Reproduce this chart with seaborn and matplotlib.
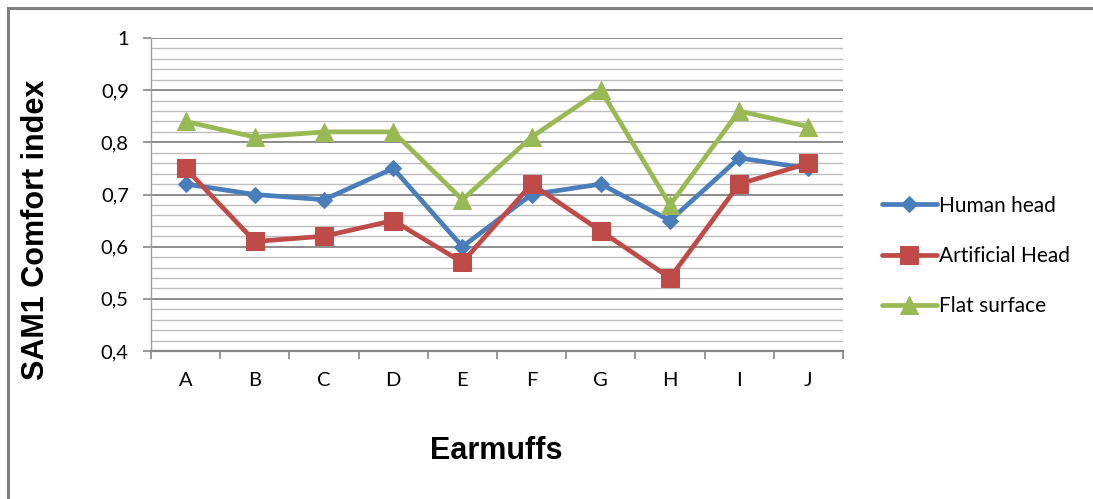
import matplotlib
matplotlib.use("Agg")
import matplotlib.pyplot as plt
from matplotlib.patches import Rectangle
from matplotlib.ticker import FixedLocator, MultipleLocator
import numpy as np
import pandas as pd
import seaborn as sns

# Earmuff models and SAM1 comfort index per measurement set-up
earmuffs = ["A", "B", "C", "D", "E", "F", "G", "H", "I", "J"]
human_head = [0.72, 0.70, 0.69, 0.75, 0.60, 0.70, 0.72, 0.65, 0.77, 0.75]
artificial_head = [0.75, 0.61, 0.62, 0.65, 0.57, 0.72, 0.63, 0.54, 0.72, 0.76]
flat_surface = [0.84, 0.81, 0.82, 0.82, 0.69, 0.81, 0.90, 0.68, 0.86, 0.83]

series_names = ["Human head", "Artificial Head", "Flat surface"]
series_values = [human_head, artificial_head, flat_surface]
y_ticks = [0.4, 0.5, 0.6, 0.7, 0.8, 0.9, 1.0]
y_tick_labels = ["0,4", "0,5", "0,6", "0,7", "0,8", "0,9", "1"]

colors = {"Human head": "#4A7EBB", "Artificial Head": "#BE4B48", "Flat surface": "#98B954"}
markers = {"Human head": "D", "Artificial Head": "s", "Flat surface": "^"}
msizes = {"Human head": 8.5, "Artificial Head": 13, "Flat surface": 13}

rows = []
for name, vals in zip(series_names, series_values):
    for i, (cat, v) in enumerate(zip(earmuffs, vals)):
        rows.append({"pos": i, "Earmuff": cat, "series": name, "value": v})
df = pd.DataFrame(rows)

sns.set_theme(style="white")
plt.rcParams["font.family"] = ["Lato", "DejaVu Sans"]
plt.rcParams["text.color"] = "black"
plt.rcParams["xtick.color"] = "black"
plt.rcParams["ytick.color"] = "black"

fig = plt.figure(figsize=(10.93, 4.99), dpi=100)
ax = fig.add_axes([151 / 1093, 1 - 351 / 499, (843 - 151) / 1093, (351 - 38) / 499])

for name in series_names:
    sub = df[df["series"] == name]
    sns.lineplot(data=sub, x="pos", y="value", ax=ax, color=colors[name],
                 marker=markers[name], markersize=msizes[name],
                 markeredgecolor=colors[name], linewidth=3.4, label=name,
                 zorder=3)

ax.set_xlim(-0.5, len(earmuffs) - 0.5)
ax.set_ylim(0.4, 1.0)

# category boundaries as tick marks, labels centred on each category
ax.xaxis.set_major_locator(FixedLocator(np.arange(-0.5, len(earmuffs), 1.0)))
ax.xaxis.set_minor_locator(FixedLocator(np.arange(len(earmuffs))))
ax.set_xticklabels([], minor=False)
ax.set_xticklabels(earmuffs, minor=True)
ax.tick_params(axis="x", which="major", length=6, width=1.2, color="#868686",
               direction="out", bottom=True)
ax.tick_params(axis="x", which="minor", length=0, pad=15, labelsize=14.5,
               labelcolor="black", bottom=True)

ax.yaxis.set_major_locator(FixedLocator(y_ticks))
ax.set_yticklabels(y_tick_labels)
ax.yaxis.set_minor_locator(MultipleLocator(0.02))
ax.tick_params(axis="y", which="major", length=6, width=1.2, color="#868686",
               direction="out", left=True, pad=10, labelsize=14.5, labelcolor="black")
ax.tick_params(axis="y", which="minor", length=0)

ax.grid(True, axis="y", which="major", color="#8C8C8C", linewidth=1.4, zorder=0)
ax.grid(True, axis="y", which="minor", color="#BDBDBD", linewidth=1.0, zorder=0)
ax.grid(False, axis="x")
ax.set_axisbelow(True)

for side in ("top", "right"):
    ax.spines[side].set_visible(False)
ax.spines["left"].set_color("#A0A0A0")
ax.spines["left"].set_linewidth(1.0)
ax.spines["bottom"].set_color("#868686")
ax.spines["bottom"].set_linewidth(1.6)

ax.set_xlabel("")
ax.set_ylabel("")
fig.text(496 / 1093, 1 - 451 / 499, "Earmuffs", ha="center", va="center",
         fontsize=22, fontweight="bold", color="black",
         family=["Liberation Sans", "DejaVu Sans"])
fig.text(36 / 1093, 1 - 230 / 499, "SAM1 Comfort index", ha="center", va="center",
         rotation=90, fontsize=22, fontweight="bold", color="black",
         family=["Liberation Sans", "DejaVu Sans"])

handles, labels = ax.get_legend_handles_labels()
if ax.legend_:
    ax.legend_.remove()
fig.legend(handles, labels, loc="center left",
           bbox_to_anchor=(874 / 1093, 1 - 256 / 499), frameon=False,
           fontsize=15, handlelength=2.6, handletextpad=0.1, labelspacing=1.45,
           borderaxespad=0)

# outer chart frame
fig.patches.append(Rectangle((8 / 1093, -0.1), 1.2, (499 - 8) / 499 + 0.1,
                             transform=fig.transFigure, fill=False,
                             edgecolor="#808080", linewidth=2.2))

fig.savefig("out.png", dpi=100, facecolor="white")
